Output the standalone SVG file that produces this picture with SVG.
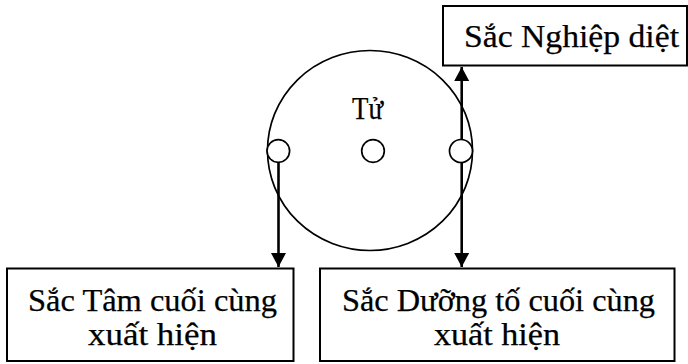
<svg xmlns="http://www.w3.org/2000/svg" width="688" height="364" viewBox="0 0 688 364">
<style>
.box{fill:#fff;stroke:#000;stroke-width:2}
.ring{fill:none;stroke:#000;stroke-width:1.7}
.dot{fill:#fff;stroke:#000;stroke-width:1.7}
.link{stroke:#000;stroke-width:2.6;fill:none}
.t{font-family:"Liberation Serif","Times New Roman",serif;font-size:31px;fill:#000;stroke:#000;stroke-width:0.25}
</style>
<defs>
<marker id="ah" markerUnits="userSpaceOnUse" markerWidth="16" markerHeight="16" viewBox="0 0 16 16" refX="15" refY="8" orient="auto-start-reverse">
<path d="M1,0.5 L15,8 L1,15.5 Z" fill="#000"/>
</marker>
</defs>
<rect width="688" height="364" fill="#fff"/>
<g id="death">
<ellipse class="ring" cx="370" cy="150.5" rx="102.5" ry="100"/>
<text class="t" x="352" y="119" textLength="31" lengthAdjust="spacingAndGlyphs">Tử</text>
</g>
<g id="connectors">
<line class="link" x1="461.7" y1="67" x2="461.7" y2="267" marker-start="url(#ah)" marker-end="url(#ah)"/>
<line class="link" x1="278.5" y1="162" x2="278.5" y2="267" marker-end="url(#ah)"/>
</g>
<g id="dot-left"><circle class="dot" cx="278.3" cy="151" r="11.3"/></g>
<g id="dot-center"><circle class="dot" cx="373" cy="151" r="11.3"/></g>
<g id="dot-right"><circle class="dot" cx="461" cy="151" r="11.5"/></g>
<g id="kamma-rupa">
<rect class="box" x="443" y="6" width="244" height="59.5"/>
<text class="t" x="464" y="47" textLength="215" lengthAdjust="spacingAndGlyphs">Sắc Nghiệp diệt</text>
</g>
<g id="citta-rupa">
<rect class="box" x="7" y="268.5" width="286.5" height="92.5"/>
<text class="t" x="28" y="311" textLength="249" lengthAdjust="spacingAndGlyphs">Sắc Tâm cuối cùng</text>
<text class="t" x="88" y="345" textLength="129" lengthAdjust="spacingAndGlyphs">xuất hiện</text>
</g>
<g id="ahara-rupa">
<rect class="box" x="320" y="268.5" width="354.5" height="92.5"/>
<text class="t" x="342" y="311" textLength="313" lengthAdjust="spacingAndGlyphs">Sắc Dưỡng tố cuối cùng</text>
<text class="t" x="434" y="345" textLength="126" lengthAdjust="spacingAndGlyphs">xuất hiện</text>
</g>
</svg>
